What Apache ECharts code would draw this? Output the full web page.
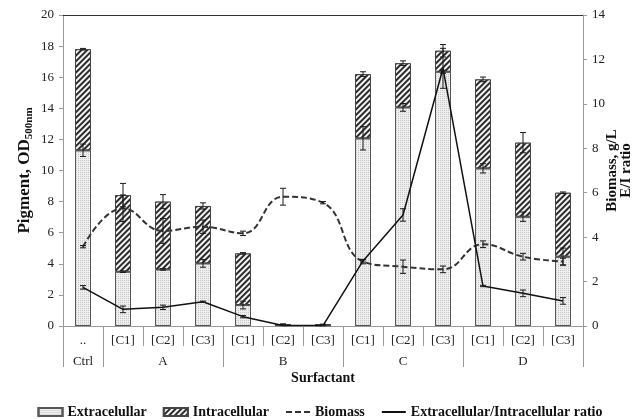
<!DOCTYPE html>
<html>
<head>
<meta charset="utf-8">
<script src="https://cdn.jsdelivr.net/npm/echarts@6/dist/echarts.min.js"></script>
<style>
html,body{margin:0;padding:0;background:#fff;}
#c{width:640px;height:419px;}
</style>
</head>
<body>
<div id="c"></div>
<script>
// ---- data ----
const categories = ['..','[C1]','[C2]','[C3]','[C1]','[C2]','[C3]','[C1]','[C2]','[C3]','[C1]','[C2]','[C3]'];
const groupLabels = ['Ctrl','','A','','','B','','','C','','','D',''];
const groupStarts = [0,1,4,7,10];
const totalPigment = [17.8, 8.42, 8.0, 7.72, 4.67, 0.12, 0.1, 16.2, 16.9, 17.7, 15.86, 11.79, 8.57];
const extracellular = [11.3, 3.49, 3.64, 4.03, 1.35, 0.06, 0.05, 12.07, 14.06, 16.35, 10.14, 7.03, 4.46];
const extracellularErr = [0.4, 0.05, 0.05, 0.25, 0.25, 0.02, 0.02, 0.75, 0.25, 0.1, 0.3, 0.3, 0.55];
const totalErr = [0.05, 0.75, 0.45, 0.2, 0.05, 0.02, 0.02, 0.15, 0.15, 0.4, 0.15, 0.65, 0.05];
const biomass = [3.57, 5.3, 4.28, 4.47, 4.17, 5.82, 5.55, 2.9, 2.67, 2.55, 3.68, 3.12, 2.9];
const biomassErr = [0.05, 0.6, 0.56, 0.3, 0.1, 0.38, 0.05, 0.1, 0.3, 0.15, 0.15, 0.15, 0.15];
const ratio = [1.74, 0.75, 0.84, 1.09, 0.42, 0.02, 0.02, 2.93, 5.0, 11.6, 1.8, 1.47, 1.13];
const ratioErr = [0.08, 0.15, 0.1, 0.03, 0.05, 0, 0, 0.05, 0.28, 0.9, 0.03, 0.15, 0.15];
const leftTicks = {min:0, max:20, interval:2};
const rightTicks = {min:0, max:14, interval:2};

const intracellular = totalPigment.map((t,i)=> +(t - extracellular[i]).toFixed(3));
const FONT = '"Liberation Serif", "Times New Roman", serif';

function errData(vals, errs){ return vals.map((v,i)=>[i, v, errs[i]]); }
function errRender(params, api){
  const x = api.value(0), y = api.value(1), e = api.value(2);
  const top = api.coord([x, y + e]);
  const bot = api.coord([x, y - e]);
  const hw = 3;
  const st = {stroke:'#1a1a1a', lineWidth:1};
  return {type:'group', children:[
    {type:'line', shape:{x1:top[0], y1:top[1], x2:bot[0], y2:bot[1]}, style:st},
    {type:'line', shape:{x1:top[0]-hw, y1:top[1], x2:top[0]+hw, y2:top[1]}, style:st},
    {type:'line', shape:{x1:bot[0]-hw, y1:bot[1], x2:bot[0]+hw, y2:bot[1]}, style:st}
  ]};
}

const extraDecal = {symbol:'rect', symbolSize:1, dashArrayX:[1,1], dashArrayY:[1,1], color:'#c8c8c8'};
const intraDecal = {symbol:'rect', symbolSize:1, dashArrayX:[1,0], dashArrayY:[1.2,2], rotation:-Math.PI/4, color:'#2b2b2b', backgroundColor:'#f4f4f4'};

const chart = echarts.init(document.getElementById('c'), null, {renderer:'canvas'});
chart.setOption({
  animation:false,
  backgroundColor:'#fff',
  textStyle:{fontFamily:FONT},
  grid:{left:63, right:57, top:15, bottom:93, outerBoundsMode:'none', containLabel:false},
  legend:{
    top:400, left:'center', itemGap:16, itemWidth:24, itemHeight:8,
    textStyle:{fontFamily:FONT, fontSize:14, fontWeight:'bold', color:'#111'},
    data:[
      {name:'Extracelullar', icon:'rect'},
      {name:'Intracellular', icon:'rect'},
      {name:'Biomass', itemStyle:{opacity:0}},
      {name:'Extracellular/Intracellular ratio', itemStyle:{opacity:0}}
    ]
  },
  xAxis:[
    {type:'category', data:categories, position:'bottom',
      axisLine:{lineStyle:{color:'#9a9a9a', width:1}},
      axisTick:{show:true, length:20, interval:0, lineStyle:{color:'#9a9a9a'}},
      axisLabel:{interval:0, margin:8, fontFamily:FONT, fontSize:13, color:'#222'},
      name:'Surfactant', nameLocation:'middle', nameGap:45, nameMoveOverlap:false,
      nameTextStyle:{fontFamily:FONT, fontSize:14, fontWeight:'bold', color:'#111'}
    },
    {type:'category', data:groupLabels, position:'bottom',
      axisLine:{show:false},
      axisTick:{show:true, length:41, interval:(i)=>groupStarts.includes(i), lineStyle:{color:'#9a9a9a'}},
      axisLabel:{interval:0, margin:29, fontFamily:FONT, fontSize:13, color:'#222'}
    },
    {type:'category', data:categories, position:'top',
      axisLine:{lineStyle:{color:'#333', width:1}}, axisTick:{show:false}, axisLabel:{show:false}
    }
  ],
  yAxis:[
    {type:'value', min:leftTicks.min, max:leftTicks.max, interval:leftTicks.interval, position:'left',
      splitLine:{show:false},
      axisLine:{show:true, lineStyle:{color:'#9a9a9a'}},
      axisTick:{show:true, length:4, lineStyle:{color:'#9a9a9a'}},
      axisLabel:{margin:9, fontFamily:FONT, fontSize:13, color:'#222'},
      name:'{a|Pigment, OD}{b|500nm}', nameLocation:'middle', nameGap:28, nameMoveOverlap:false,
      nameTextStyle:{rich:{
        a:{fontFamily:FONT, fontSize:17, fontWeight:'bold', color:'#111'},
        b:{fontFamily:FONT, fontSize:11, fontWeight:'bold', color:'#111', padding:[9,0,0,0]}
      }}
    },
    {type:'value', min:rightTicks.min, max:rightTicks.max, interval:rightTicks.interval, position:'right',
      splitLine:{show:false},
      axisLine:{show:true, lineStyle:{color:'#9a9a9a'}},
      axisTick:{show:true, length:4, lineStyle:{color:'#9a9a9a'}},
      axisLabel:{margin:9, fontFamily:FONT, fontSize:13, color:'#222'},
      name:'Biomass, g/L\nE/I ratio', nameLocation:'middle', nameGap:22, nameMoveOverlap:false,
      nameTextStyle:{fontFamily:FONT, fontSize:15, fontWeight:'bold', color:'#111', lineHeight:14, align:'center'}
    }
  ],
  series:[
    {name:'Extracelullar', type:'bar', stack:'p', barWidth:16, data:extracellular,
      itemStyle:{color:'#eeeeee', borderColor:'#555', borderWidth:1, decal:extraDecal}},
    {name:'Intracellular', type:'bar', stack:'p', barWidth:16, data:intracellular,
      itemStyle:{color:'#f4f4f4', borderColor:'#444', borderWidth:1, decal:intraDecal}},
    {name:'Biomass', type:'line', yAxisIndex:1, data:biomass, smooth:0.45, symbol:'none', z:5,
      lineStyle:{color:'#333', width:2, type:[6,3]}, itemStyle:{color:'#333'}},
    {name:'Extracellular/Intracellular ratio', type:'line', yAxisIndex:1, data:ratio, symbol:'none', z:5,
      lineStyle:{color:'#111', width:1.5}, itemStyle:{color:'#111'}},
    {type:'custom', renderItem:errRender, data:errData(extracellular, extracellularErr), z:6, silent:true},
    {type:'custom', renderItem:errRender, data:errData(totalPigment, totalErr), z:6, silent:true},
    {type:'custom', yAxisIndex:1, renderItem:errRender, data:errData(biomass, biomassErr), z:6, silent:true},
    {type:'custom', yAxisIndex:1, renderItem:errRender, data:errData(ratio, ratioErr), z:6, silent:true}
  ]
});
</script>
</body>
</html>
